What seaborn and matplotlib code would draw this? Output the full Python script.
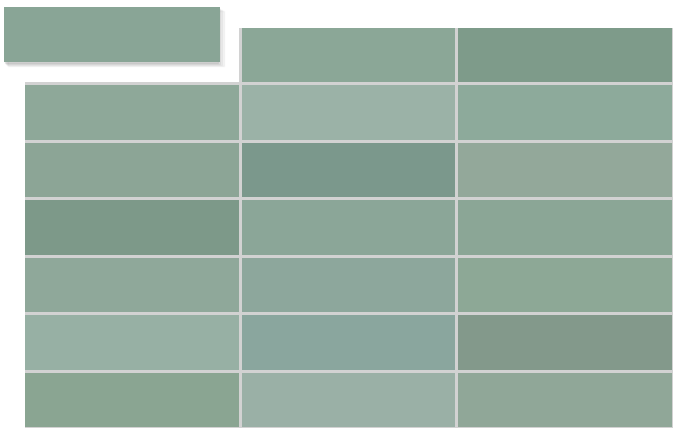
import numpy as np
import seaborn as sns
import matplotlib.pyplot as plt
from matplotlib.colors import ListedColormap, to_rgba
from matplotlib.patches import Rectangle

# tile glaze colours, one list per row (top to bottom), None = empty slot
row_0 = [None, '#8ba797', '#7e9b8a']
row_1 = ['#8ea899', '#9bb2a7', '#8daa9b']
row_2 = ['#8ca596', '#7b988c', '#93a89a']
row_3 = ['#7d9989', '#8ba698', '#8ba696']
row_4 = ['#8fa89a', '#8da79c', '#8da896']
row_5 = ['#97b0a4', '#8aa69e', '#83998b']
row_6 = ['#8aa592', '#9ab0a6', '#90a798']
loose_tile = '#89a596'

rows = [row_0, row_1, row_2, row_3, row_4, row_5, row_6]
grout = '#d2d2d2'

# build an index grid and a palette so each tile keeps its own colour
palette = []
grid = np.full((len(rows), 3), np.nan)
for i, row in enumerate(rows):
    for j, c in enumerate(row):
        if c is not None:
            grid[i, j] = len(palette)
            palette.append(c)

fig = plt.figure(figsize=(6.73, 4.28), dpi=100)
W, H = 673, 428

# main wall of tiles; limits inset a hair so the outer grout is clipped
ax = fig.add_axes([25 / W, 0, 648 / W, 400 / H])
sns.heatmap(grid, ax=ax, cmap=ListedColormap(palette), vmin=-0.5,
            vmax=len(palette) - 0.5, cbar=False, linewidths=1.8,
            linecolor=grout, xticklabels=False, yticklabels=False)
# no grout around the empty slot
mesh = ax.collections[0]
edges = [(0, 0, 0, 0) if np.isnan(v) else to_rgba(grout) for v in grid.ravel()]
mesh.set_edgecolors(edges)
ax.set_xlim(0.0092, 3.0)
ax.set_ylim(7.0, 0.035)
ax.axis('off')

# soft shadow under the loose tile
for k, a in enumerate([0.05, 0.06, 0.08, 0.10]):
    off = 4 - k
    fig.patches.append(Rectangle(((4 + off) / W, (428 - 62 - off) / H),
                                 (216 - k) / W, 55 / H,
                                 transform=fig.transFigure,
                                 color='#555555', alpha=a, zorder=-1))

# loose tile sitting on top
ax2 = fig.add_axes([4 / W, (428 - 62) / H, 216 / W, 55 / H])
ax2.set_zorder(5)
sns.heatmap(np.array([[0]]), ax=ax2, cmap=ListedColormap([loose_tile]),
            cbar=False, xticklabels=False, yticklabels=False)
ax2.axis('off')

fig.savefig('out.png', dpi=100)
